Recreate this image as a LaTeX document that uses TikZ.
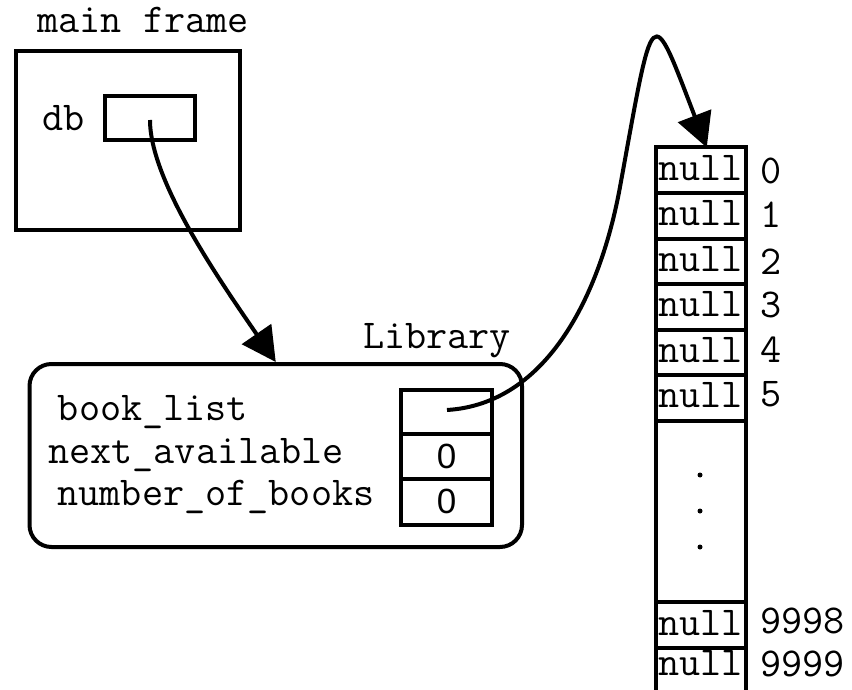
\documentclass[tikz,border=0pt]{standalone}
\usepackage{fontspec}
\setmainfont{Liberation Serif}
\newfontfamily\sansfont{Liberation Sans}
\usetikzlibrary{arrows.meta,calc}
\begin{document}
\begin{tikzpicture}[x=1pt,y=-1pt,
  mono/.style={font=\ttfamily\fontsize{41}{44}\selectfont, inner sep=0pt},
  box/.style={draw, line width=4pt, inner sep=0pt},
  cell/.style={box, minimum width=90.5pt, minimum height=45.5pt,
    font=\ttfamily\fontsize{41}{44}\selectfont, text height=25pt, text depth=5pt},
  idx/.style={mono, anchor=base west},
  lbl/.style={mono, anchor=base},
  val/.style={box, minimum width=91pt, font=\sansfont\fontsize{35}{37}\selectfont},
  ptr/.style={line width=4pt, -{Triangle[length=34pt,width=35pt]}},
  dotmark/.style={circle, fill, inner sep=0pt, minimum size=5pt}
]
\useasboundingbox (0,0) rectangle (852,690);

% main frame
\node[box, minimum width=223.5pt, minimum height=179pt] (mf) at (127.75,140.5) {};
\node[lbl] (mft) at (143,33) {main frame};
\node[box, minimum width=90pt, minimum height=44pt] (db) at (150,118) {};
\node[lbl] (dbt) at (63.5,131) {db};
\coordinate (dbptr) at (150,120);

% Library object
\node[box, rounded corners=22pt, minimum width=492.5pt, minimum height=183pt] (lib) at (275.75,455.5) {};
\node[lbl] (libt) at (437,348) {Library};
\node[lbl] (blt) at (153,420) {book\_list};
\node[lbl] (nat) at (196,463) {next\_available};
\node[lbl] (nbt) at (216,505) {number\_of\_books};
\node[val, minimum height=44.5pt] (bl) at (446.5,411.75) {};
\node[val, minimum height=44.5pt] (na) at (446.5,456.25) {0};
\node[val, minimum height=46.5pt] (nb) at (446.5,501.75) {0};
\coordinate (blptr) at (447,410);

% array
\foreach \i in {0,...,5} {
  \node[cell] (c\i) at (700.75,{170.25+45.5*\i}) {null};
}
\node[box, minimum width=90.5pt, minimum height=181pt] (cdots) at (700.75,511) {};
\node[dotmark] (d1) at (700,475) {};
\node[dotmark] (d2) at (700,511) {};
\node[dotmark] (d3) at (700,547) {};
\node[cell, minimum height=46pt] (c9998) at (700.75,625) {null};
\node[cell, text height=22pt, text depth=12pt] (c9999) at (700.75,670.75) {null};

\node[idx] (i0) at (760,183) {0};
\node[idx] (i1) at (760,227) {1};
\node[idx] (i2) at (760,274) {2};
\node[idx] (i3) at (760,317) {3};
\node[idx] (i4) at (760,362) {4};
\node[idx] (i5) at (760,406) {5};
\node[idx] (i9998) at (760,633) {9998};
\node[idx] (i9999) at (760,676) {9999};

% pointers
\draw[ptr] (dbptr) .. controls (150,180) and (218,278) .. (lib.north);
\coordinate (bend) at (620,187);
\draw[ptr] (blptr) .. controls (547,404) and (600.2,295.2) .. (bend)
  .. controls (654.2,0) and (650,0) .. ($(c0.north)+(6,2)$);
\end{tikzpicture}
\end{document}
